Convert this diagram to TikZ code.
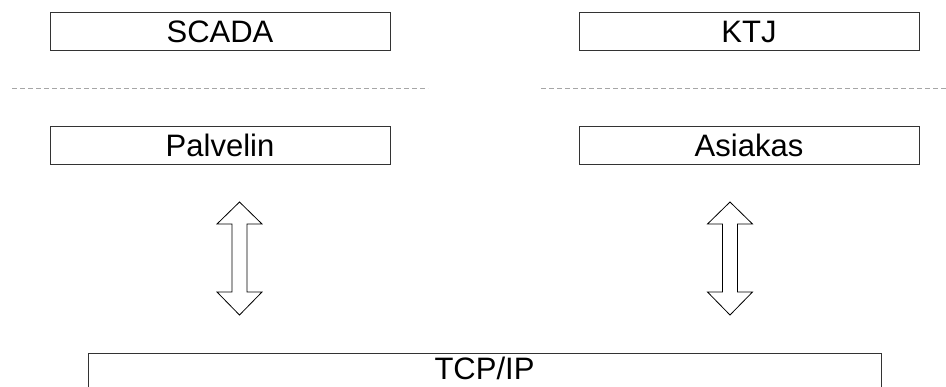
\documentclass[tikz,border=0pt]{standalone}
\usepackage{fontspec}
\setmainfont{Liberation Sans}
\begin{document}
\begin{tikzpicture}[x=1pt,y=-1pt,
  layerbox/.style={draw=black!80,line width=1pt,fill=white,inner sep=0pt,
    minimum width=340pt,minimum height=38pt,text height=22.2pt,text depth=0pt,
    font=\fontsize{31}{37}\selectfont},
  sepline/.style={draw=black!35,line width=1pt,dash pattern=on 5pt off 3pt},
  blockarrow/.style={draw=black,line width=0.8pt,fill=white,line join=miter}]
\useasboundingbox (0,0) rectangle (946,386);
% boxes
\node[layerbox] (scada) at (220,31) {SCADA};
\node[layerbox] (ktj) at (749,31) {KTJ};
\node[layerbox] (palvelin) at (220,145) {Palvelin};
\node[layerbox] (asiakas) at (749,145) {Asiakas};
\node[layerbox,minimum width=793pt,text depth=8pt,anchor=north] (tcp) at (484.5,353) {TCP/IP};
% separators
\coordinate (s1a) at (12,88); \coordinate (s1b) at (428,88);
\coordinate (s2a) at (541,88); \coordinate (s2b) at (946,88);
\draw[sepline] (s1a) -- (s1b);
\draw[sepline] (s2a) -- (s2b);
% double block arrows
\foreach \cx/\nm in {239.5/la,730/ra}{
  \draw[blockarrow] (\cx,202) -- (\cx+22.5,224) -- (\cx+7.5,224) -- (\cx+7.5,292)
    -- (\cx+22.5,292) -- (\cx,315) -- (\cx-22.5,292) -- (\cx-7.5,292)
    -- (\cx-7.5,224) -- (\cx-22.5,224) -- cycle;
}
\end{tikzpicture}
\end{document}
